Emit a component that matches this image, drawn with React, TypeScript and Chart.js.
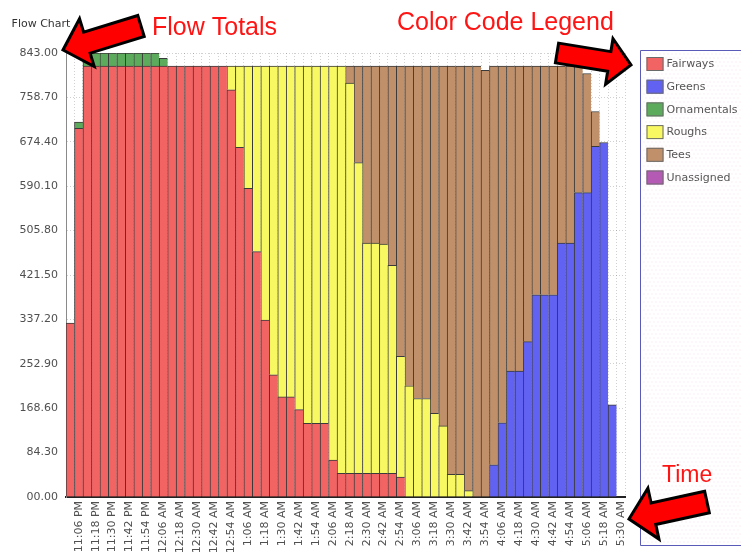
import React, { useEffect, useRef } from 'react';
import { Chart, registerables } from 'chart.js';

Chart.register(...registerables);

const timeLabels = [
  '11:00 PM', '11:06 PM', '11:12 PM', '11:18 PM', '11:24 PM', '11:30 PM', '11:36 PM', '11:42 PM', '11:48 PM', '11:54 PM',
  '12:00 AM', '12:06 AM', '12:12 AM', '12:18 AM', '12:24 AM', '12:30 AM', '12:36 AM', '12:42 AM', '12:48 AM', '12:54 AM',
  '1:00 AM', '1:06 AM', '1:12 AM', '1:18 AM', '1:24 AM', '1:30 AM', '1:36 AM', '1:42 AM', '1:48 AM', '1:54 AM',
  '2:00 AM', '2:06 AM', '2:12 AM', '2:18 AM', '2:24 AM', '2:30 AM', '2:36 AM', '2:42 AM', '2:48 AM', '2:54 AM',
  '3:00 AM', '3:06 AM', '3:12 AM', '3:18 AM', '3:24 AM', '3:30 AM', '3:36 AM', '3:42 AM', '3:48 AM', '3:54 AM',
  '4:00 AM', '4:06 AM', '4:12 AM', '4:18 AM', '4:24 AM', '4:30 AM', '4:36 AM', '4:42 AM', '4:48 AM', '4:54 AM',
  '5:00 AM', '5:06 AM', '5:12 AM', '5:18 AM', '5:24 AM', '5:30 AM',
];

const fairways = [
  330, 700, 818, 818, 818, 818, 818, 818, 818, 818,
  818, 818, 818, 818, 818, 818, 818, 818, 818, 773,
  664, 586, 466, 336, 232, 190, 190, 166, 140, 140,
  140, 70, 45, 45, 45, 45, 45, 45, 45, 38,
  0, 0, 0, 0, 0, 0, 0, 0, 0, 0,
  0, 0, 0, 0, 0, 0, 0, 0, 0, 0,
  0, 0, 0, 0, 0, 0,
];

const greens = [
  0, 0, 0, 0, 0, 0, 0, 0, 0, 0,
  0, 0, 0, 0, 0, 0, 0, 0, 0, 0,
  0, 0, 0, 0, 0, 0, 0, 0, 0, 0,
  0, 0, 0, 0, 0, 0, 0, 0, 0, 0,
  0, 0, 0, 0, 0, 0, 0, 0, 0, 0,
  61, 141, 239, 239, 295, 384, 384, 384, 482, 482,
  578, 578, 666, 673, 175, 0,
];

const ornamentals = [
  0, 12, 25, 25, 25, 25, 25, 25, 25, 25,
  25, 15, 0, 0, 0, 0, 0, 0, 0, 0,
  0, 0, 0, 0, 0, 0, 0, 0, 0, 0,
  0, 0, 0, 0, 0, 0, 0, 0, 0, 0,
  0, 0, 0, 0, 0, 0, 0, 0, 0, 0,
  0, 0, 0, 0, 0, 0, 0, 0, 0, 0,
  0, 0, 0, 0, 0, 0,
];

const roughs = [
  0, 0, 0, 0, 0, 0, 0, 0, 0, 0,
  0, 0, 0, 0, 0, 0, 0, 0, 0, 45,
  154, 232, 352, 482, 586, 628, 628, 652, 678, 678,
  678, 748, 773, 741, 590, 437, 437, 435, 395, 229,
  211, 187, 187, 159, 135, 43, 43, 12, 0, 0,
  0, 0, 0, 0, 0, 0, 0, 0, 0, 0,
  0, 0, 0, 0, 0, 0,
];

const tees = [
  0, 0, 0, 0, 0, 0, 0, 0, 0, 0,
  0, 0, 0, 0, 0, 0, 0, 0, 0, 0,
  0, 0, 0, 0, 0, 0, 0, 0, 0, 0,
  0, 0, 0, 32, 183, 336, 336, 338, 378, 551,
  607, 631, 631, 659, 683, 775, 775, 806, 818, 810,
  757, 677, 579, 579, 523, 434, 434, 434, 336, 336,
  240, 226, 66, 0, 0, 0,
];

const unassigned = [
  0, 0, 0, 0, 0, 0, 0, 0, 0, 0,
  0, 0, 0, 0, 0, 0, 0, 0, 0, 0,
  0, 0, 0, 0, 0, 0, 0, 0, 0, 0,
  0, 0, 0, 0, 0, 0, 0, 0, 0, 0,
  0, 0, 0, 0, 0, 0, 0, 0, 0, 0,
  0, 0, 0, 0, 0, 0, 0, 0, 0, 0,
  0, 0, 0, 0, 0, 0,
];

const seriesNames = ['Fairways', 'Greens', 'Ornamentals', 'Roughs', 'Tees', 'Unassigned'];
const seriesValues = [fairways, greens, ornamentals, roughs, tees, unassigned];
const seriesColors = ['#F26464', '#6262F2', '#5CAA5C', '#F8F862', '#C0906A', '#B45AB4'];

const yTickLabels = ['00.00', '84.30', '168.60', '252.90', '337.20', '421.50', '505.80', '590.10', '674.40', '758.70', '843.00'];

const chartTitle = 'Flow Chart';
const noteTotals = 'Flow Totals';
const noteLegend = 'Color Code Legend';
const noteTime = 'Time';

const AXIS_FONT = { family: '"DejaVu Sans", sans-serif', size: 11 };

function drawArrow(ctx: CanvasRenderingContext2D, tx: number, ty: number, hx: number, hy: number, sw: number, hw: number, hl: number) {
  const dx = hx - tx;
  const dy = hy - ty;
  const len = Math.hypot(dx, dy);
  const ux = dx / len;
  const uy = dy / len;
  const px = -uy;
  const py = ux;
  const bx = hx - ux * hl;
  const by = hy - uy * hl;
  ctx.beginPath();
  ctx.moveTo(tx + px * sw / 2, ty + py * sw / 2);
  ctx.lineTo(bx + px * sw / 2, by + py * sw / 2);
  ctx.lineTo(bx + px * hw / 2, by + py * hw / 2);
  ctx.lineTo(hx, hy);
  ctx.lineTo(bx - px * hw / 2, by - py * hw / 2);
  ctx.lineTo(bx - px * sw / 2, by - py * sw / 2);
  ctx.lineTo(tx - px * sw / 2, ty - py * sw / 2);
  ctx.closePath();
  ctx.fillStyle = '#FF0000';
  ctx.fill();
  ctx.lineWidth = 3;
  ctx.lineJoin = 'miter';
  ctx.strokeStyle = '#000000';
  ctx.stroke();
}

const overlayPlugin = {
  id: 'overlay',
  afterDraw(chart: any) {
    const ctx: CanvasRenderingContext2D = chart.ctx;
    const area = chart.chartArea;
    ctx.save();

    // small title
    ctx.font = '11px "DejaVu Sans", sans-serif';
    ctx.fillStyle = '#333333';
    ctx.textAlign = 'center';
    ctx.textBaseline = 'alphabetic';
    ctx.fillText(chartTitle, 41, 27);

    // legend frame
    const lx = area.right + 15.5;
    const ly = 50.5;
    const lb = 545.5;
    ctx.strokeStyle = '#5A5AB8';
    ctx.lineWidth = 1;
    ctx.beginPath();
    ctx.moveTo(chart.width + 2, ly);
    ctx.lineTo(lx, ly);
    ctx.lineTo(lx, lb);
    ctx.lineTo(chart.width + 2, lb);
    ctx.stroke();
    // faint pink dots inside
    ctx.fillStyle = 'rgba(235,150,200,0.35)';
    for (let yy = ly + 3; yy < lb - 1; yy += 4) {
      for (let xx = lx + 3 + ((yy - ly) % 8 === 3 ? 0 : 2); xx < chart.width; xx += 4) {
        ctx.fillRect(xx, yy, 1, 1);
      }
    }

    // legend entries
    chart.data.datasets.forEach((ds: any, i: number) => {
      const y0 = 57 + i * 22.7;
      ctx.fillStyle = ds.backgroundColor;
      ctx.fillRect(lx + 6, y0, 17, 14);
      ctx.strokeStyle = '#6a6a6a';
      ctx.lineWidth = 1;
      ctx.strokeRect(lx + 6.5, y0 + 0.5, 16, 13);
      ctx.font = '11px "DejaVu Sans", sans-serif';
      ctx.fillStyle = '#555555';
      ctx.textAlign = 'left';
      ctx.textBaseline = 'middle';
      ctx.fillText(ds.label, lx + 26, y0 + 7.5);
    });

    // red annotations
    ctx.fillStyle = '#FF1414';
    ctx.textAlign = 'left';
    ctx.textBaseline = 'alphabetic';
    ctx.font = '25px "Liberation Sans", Arial, sans-serif';
    ctx.fillText(noteTotals, 152, 35);
    ctx.fillText(noteLegend, 397, 30);
    ctx.font = '23px "Liberation Sans", Arial, sans-serif';
    ctx.fillText(noteTime, 662, 482);

    drawArrow(ctx, 141, 26, 63, 50, 22, 50, 25);
    drawArrow(ctx, 557, 53, 631, 65, 20, 46, 22);
    drawArrow(ctx, 707, 502, 629, 519, 22, 52, 25);

    ctx.restore();
  },
};

export default function App() {
  const canvasRef = useRef<HTMLCanvasElement | null>(null);

  useEffect(() => {
    const canvas = canvasRef.current;
    if (!canvas) return;
    const chart = new Chart(canvas, {
      type: 'bar',
      data: {
        labels: timeLabels,
        datasets: seriesNames.map((name, i) => ({
          label: name,
          data: seriesValues[i],
          backgroundColor: seriesColors[i],
          borderColor: '#3a3a3a',
          borderWidth: { top: 1, left: 1, right: 0, bottom: 0 },
          borderSkipped: false,
          barPercentage: 1,
          categoryPercentage: 1,
        })),
      },
      options: {
        animation: false,
        responsive: false,
        maintainAspectRatio: false,
        devicePixelRatio: 1,
        layout: { padding: { top: 53, right: 116, bottom: 0, left: 0 } },
        plugins: {
          legend: { display: false },
          title: { display: false },
          tooltip: { enabled: false },
        },
        scales: {
          x: {
            stacked: true,
            grid: { display: true, color: 'rgba(0,0,0,0.18)', drawTicks: false },
            border: { display: true, color: '#222222', width: 2, dash: [1, 2] },
            ticks: {
              autoSkip: false,
              maxRotation: 90,
              minRotation: 90,
              padding: 4,
              color: '#505050',
              font: AXIS_FONT,
              callback: (_v: any, i: number) => (i % 2 === 1 ? timeLabels[i] : ''),
            },
            afterFit: (s: any) => {
              s.height = 58;
            },
          },
          y: {
            stacked: true,
            min: 0,
            max: 843,
            afterBuildTicks: (s: any) => {
              s.ticks = yTickLabels.map((t) => ({ value: parseFloat(t) }));
            },
            grid: { display: true, color: 'rgba(0,0,0,0.18)', drawTicks: false },
            border: { display: true, color: '#8a8a8a', width: 1, dash: [1, 2] },
            ticks: {
              padding: 8,
              color: '#505050',
              font: AXIS_FONT,
              callback: (_v: any, i: number) => yTickLabels[i],
            },
            afterFit: (s: any) => {
              s.width = 66;
            },
          },
        },
      },
      plugins: [overlayPlugin],
    } as any);
    return () => chart.destroy();
  }, []);

  return (
    <div style={{ position: 'fixed', left: 0, top: 0, width: 741, height: 555, background: '#ffffff', overflow: 'hidden' }}>
      <canvas ref={canvasRef} width={741} height={555} style={{ display: 'block', width: 741, height: 555 }} />
    </div>
  );
}
